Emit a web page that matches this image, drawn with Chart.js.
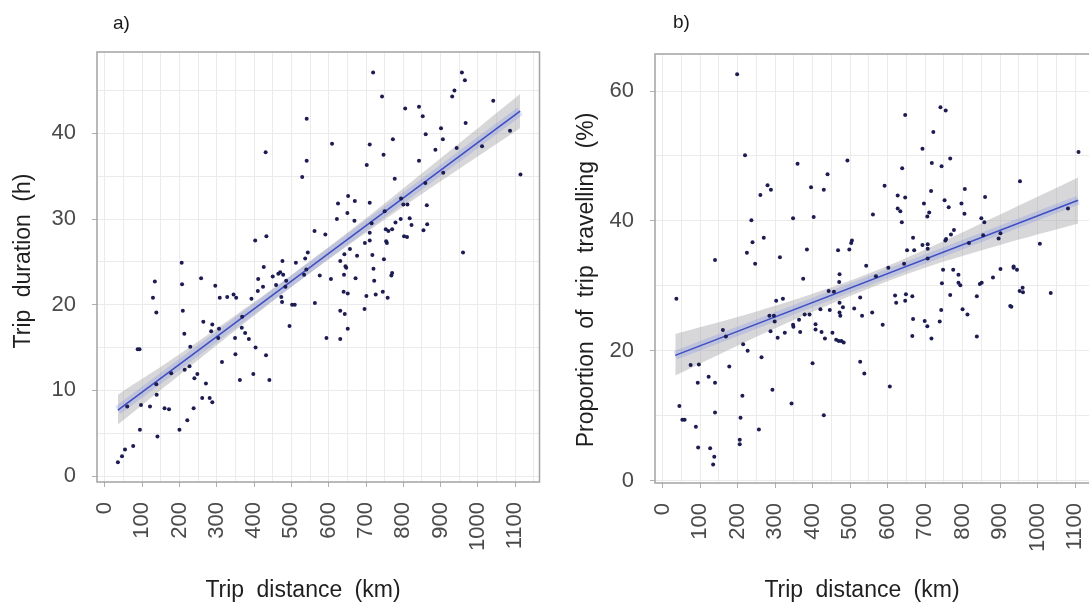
<!DOCTYPE html>
<html><head><meta charset="utf-8">
<script src="https://cdn.jsdelivr.net/npm/chart.js@4.4.1/dist/chart.umd.min.js"></script>
<style>
html,body{margin:0;padding:0;background:#fff;width:1089px;height:610px;overflow:hidden;position:relative}
canvas{display:block;position:absolute;top:0}
#ca{left:0}
#cb{left:545px}
</style></head><body>
<canvas id="ca" width="545" height="610"></canvas>
<canvas id="cb" width="555" height="610"></canvas>
<script>
// ---------- data ----------
const xTickLabels = [0,100,200,300,400,500,600,700,800,900,1000,1100];
const yTickLabelsA = [0,10,20,30,40];
const yTickLabelsB = [0,20,40,60];

// panel a: trip distance (km) vs trip duration (h)
const distA = [541,431,541,529,403,433,206,476,512,537,544,426,
719,743,805,842,852,957,965,937,931,1041,967,901,860,906,1086,609,710,772,886,747,943,1011,842,702,1114,907,777,859,794,652,670,625,710,800,811,863,650,750,622,669,715,779,793,817,822,864,854,753,760,770,562,591,710,802,810,710,754,756,697,657,642,676,717,631,748,960,645,
134,129,138,207,258,209,296,308,328,345,352,393,411,410,424,450,465,470,478,459,484,486,475,473,502,509,495,534,540,88,93,264,288,285,306,304,367,368,376,386,349,404,432,350,398,362,441,213,229,314,214,227,248,240,271,178,138,139,261,281,288,238,160,172,121,97,60,94,141,200,221,76,54,46,35,
576,606,641,647,672,720,722,770,768,640,651,701,726,745,758,563,631,643,696,651,594,631];
const durA = [41.7,37.8,36.8,34.9,27.5,28.0,24.9,25.1,24.9,25.4,26.1,24.4,
47.1,44.3,42.9,43.1,42.0,47.1,46.2,45.0,44.3,43.8,41.2,40.6,39.9,39.3,40.3,38.8,38.7,39.3,38.1,37.5,38.3,38.5,36.8,36.3,35.2,35.4,34.7,34.2,32.4,32.7,32.1,31.8,31.9,31.7,31.7,31.6,30.7,30.9,30.0,29.8,29.5,29.6,30.0,30.1,29.3,29.4,28.7,28.8,28.6,28.8,28.6,28.2,28.4,28.0,27.9,27.5,27.4,27.2,27.2,26.5,25.9,25.7,25.8,25.1,25.3,26.1,24.5,
22.7,20.8,19.1,22.4,23.1,19.3,22.2,20.8,20.9,21.2,20.8,20.7,23.0,21.6,22.1,23.3,23.6,23.8,23.5,22.3,22.1,22.8,20.3,20.9,20.0,20.0,17.5,23.5,24.1,14.8,14.8,18.0,17.7,16.9,17.2,16.1,17.3,18.6,16.7,16.0,16.1,15.0,14.1,14.2,11.9,11.2,11.2,16.6,15.1,13.3,12.4,12.8,11.9,11.4,10.8,12.0,10.7,9.5,9.1,9.1,8.6,7.9,7.9,7.8,8.1,8.3,8.1,5.4,4.6,5.4,6.5,3.5,3.1,2.3,1.6,
23.4,23.0,23.5,24.3,23.1,24.2,22.8,23.7,23.4,21.5,21.3,21.0,21.2,21.5,20.8,20.2,19.3,18.9,19.5,17.2,16.1,16.0];
const fitXA = [35,1113];
const fitYA = [7.7,42.6];
const bandXA = [35,200,400,550,700,900,1113];
const bandLoA = [6.0,11.8,18.7,23.7,28.4,34.4,40.6];
const bandHiA = [9.5,14.2,20.3,25.1,30.1,37.1,44.6];

// panel b: trip distance (km) vs proportion of trip travelling (%)
const distB = [199,220,360,493,440,280,289,261,396,430,237,348,403,270,240,225,505,503,385,468,498,140,313,247,543,
741,755,647,722,693,1109,767,718,744,639,592,953,806,716,627,647,860,627,634,752,763,697,797,805,561,638,711,706,850,858,777,769,756,754,668,901,896,855,1081,1006,817,693,707,707,652,671,707,644,936,
37,375,472,471,303,321,443,457,527,472,481,472,474,511,532,421,446,379,392,285,297,364,299,348,349,408,408,424,453,367,288,326,307,433,463,470,477,483,161,169,215,227,264,75,97,178,123,94,140,400,527,538,213,293,344,45,53,59,140,208,430,89,257,206,206,95,127,138,135,
748,775,789,745,789,794,851,846,881,901,936,945,960,952,961,1035,767,838,620,649,666,623,647,559,743,800,813,927,930,587,668,699,706,739,666,717,838,606,569,602];
const pctB = [62.6,50.1,48.8,49.3,47.2,45.5,44.8,44.0,45.2,44.8,40.1,40.4,40.6,37.4,36.7,35.1,37.0,36.6,35.6,35.5,35.6,34.0,34.4,33.4,33.1,
57.5,57.0,56.3,53.7,51.1,50.6,49.6,48.9,48.4,48.1,45.4,46.1,44.9,44.6,43.9,43.6,43.7,41.9,41.5,43.2,42.1,42.7,42.7,41.1,41.0,39.8,41.3,40.7,40.4,39.8,38.6,37.9,37.2,37.0,37.4,38.1,37.3,37.8,41.9,36.5,36.6,36.3,36.4,35.7,35.5,35.5,34.2,33.4,33.0,
28.0,31.1,31.8,30.6,27.7,28.0,29.2,29.1,28.2,27.4,26.7,25.9,25.4,26.5,25.4,26.4,26.3,25.6,25.6,25.4,25.4,24.8,24.5,24.0,23.7,24.1,23.3,22.9,22.8,22.9,23.0,22.8,22.0,21.9,21.7,21.5,21.5,21.3,23.2,22.2,21.0,20.0,19.0,17.8,17.9,17.6,16.0,15.1,15.1,18.1,18.3,16.5,13.1,14.0,11.9,11.5,9.4,9.4,10.5,9.7,10.1,8.3,7.9,6.3,5.6,5.1,5.0,3.7,2.5,
32.5,32.5,31.7,30.4,30.5,30.1,30.5,30.3,31.3,32.6,32.8,32.5,29.7,29.2,29.0,28.9,28.6,28.4,28.5,28.7,28.4,27.4,27.7,25.9,26.3,26.4,25.6,26.9,26.8,24.0,24.9,24.6,23.8,24.5,22.3,21.9,22.2,14.5,31.5,32.8];
const fitXB = [34,1108];
const fitYB = [19.3,43.2];
const bandXB = [34,200,400,550,700,900,1108];
const bandLoB = [16.2,20.8,26.0,29.6,32.8,36.3,39.6];
const bandHiB = [22.6,25.2,28.8,31.9,35.6,41.0,46.7];

// ---------- styling ----------
const FONT = '"Liberation Sans", Arial, sans-serif';
const pts = (xs, ys) => xs.map((x, i) => ({x: x, y: ys[i]}));

const framePlugin = {
  id: 'frame',
  afterDraw(chart, args, opts) {
    const {ctx, chartArea: a} = chart;
    ctx.save();
    ctx.strokeStyle = '#a3a3a3';
    ctx.lineWidth = 1.5;
    ctx.strokeRect(a.left, a.top, a.right - a.left, a.bottom - a.top);
    ctx.fillStyle = '#1a1a1a';
    ctx.font = '19px ' + FONT;
    ctx.textBaseline = 'middle';
    ctx.textAlign = 'left';
    ctx.fillText(opts.label, opts.lx, opts.ly);
    // axis titles
    ctx.wordSpacing = '6px';
    ctx.fillStyle = '#1f1f1f';
    ctx.font = '23px ' + FONT;
    ctx.textAlign = 'center';
    ctx.fillText(opts.xtitle, opts.xtx, opts.xty);
    ctx.translate(opts.ytx, opts.yty);
    ctx.rotate(-Math.PI / 2);
    ctx.fillText(opts.ytitle, 0, 0);
    ctx.restore();
  }
};

function build(canvasId, cfg) {
  const datasets = [
    {label:'trips', data: pts(cfg.xs, cfg.ys), pointRadius:2, pointHoverRadius:2,
     backgroundColor:'#1c1c52', borderColor:'#1c1c52', borderWidth:0, showLine:false},
    {label:'fit', data: pts(cfg.fitX, cfg.fitY), showLine:true, pointRadius:0,
     borderColor:'#3e4fc4', borderWidth:1.6, fill:false},
    {label:'halo', data: pts(cfg.fitX, cfg.fitY), showLine:true, pointRadius:0,
     borderColor:'rgba(110,125,225,0.24)', borderWidth:9, fill:false},
    {label:'ci-low', data: pts(cfg.bandX, cfg.bandLo), showLine:true, pointRadius:0,
     borderWidth:0, borderColor:'rgba(0,0,0,0)', fill:false, tension:0.35},
    {label:'ci-high', data: pts(cfg.bandX, cfg.bandHi), showLine:true, pointRadius:0,
     borderWidth:0, borderColor:'rgba(0,0,0,0)', backgroundColor:'rgba(160,160,165,0.42)', fill:'-1', tension:0.35}
  ];
  const tickFont = {family: FONT, size: 22};
  return new Chart(document.getElementById(canvasId), {
    type: 'scatter',
    data: {datasets},
    plugins: [framePlugin],
    options: {
      responsive: false,
      animation: false,
      events: [],
      layout: {padding: {left:0, top: cfg.padTop, right: cfg.padRight, bottom:0}},
      plugins: {legend:{display:false}, tooltip:{enabled:false},
        frame: {label: cfg.label, lx: cfg.lx, ly: cfg.ly,
                xtitle:'Trip distance (km)', xtx: cfg.xtx, xty: 591,
                ytitle: cfg.ytitle, ytx: cfg.ytx, yty: cfg.yty}},
      scales: {
        x: {
          type:'linear', min: cfg.xmin, max: cfg.xmax,
          afterFit: s => { s.height = cfg.xh; s.paddingLeft = 0; s.paddingRight = 0; },
          border: {display:false},
          grid: {color:'#ebebeb', lineWidth:1, tickLength:5,
                 tickColor: c => (xTickLabels.includes(Math.round(c.tick.value)) ? '#b0b0b0' : 'rgba(0,0,0,0)')},
          ticks: {stepSize:50, includeBounds:false, autoSkip:false, minRotation:90, maxRotation:90,
                  padding:15, color:'#4a4a4a', font: tickFont,
                  callback: v => (xTickLabels.includes(Math.round(v)) ? String(Math.round(v)) : '')},
          title: {display:false}
        },
        y: {
          type:'linear', min: cfg.ymin, max: cfg.ymax,
          afterFit: s => { s.width = cfg.yw; s.paddingTop = 0; s.paddingBottom = 0; },
          border: {display:false},
          grid: {color:'#ebebeb', lineWidth:1, tickLength:5,
                 tickColor: c => (cfg.yLabels.includes(Math.round(c.tick.value)) ? '#b0b0b0' : 'rgba(0,0,0,0)')},
          ticks: {stepSize: cfg.yStep, includeBounds:false, autoSkip:false, padding:16,
                  color:'#4a4a4a', font: tickFont,
                  callback: v => (cfg.yLabels.includes(Math.round(v)) ? String(Math.round(v)) : '')},
          title: {display:false}
        }
      }
    }
  });
}

build('ca', {
  xs: distA, ys: durA, fitX: fitXA, fitY: fitYA, bandX: bandXA, bandLo: bandLoA, bandHi: bandHiA,
  xmin:-21, xmax:1165, ymin:-0.7, ymax:49.5, yStep:5, yLabels: yTickLabelsA,
  ytitle:'Trip duration (h)', yw:97, xh:128, padTop:52, padRight:5.5,
  xtx:303, ytx:24, yty:261,
  label:'a)', lx:113, ly:24
});
build('cb', {
  xs: distB, ys: pctB, fitX: fitXB, fitY: fitYB, bandX: bandXB, bandLo: bandLoB, bandHi: bandHiB,
  xmin:-20, xmax:1161, ymin:-0.35, ymax:65.7, yStep:10, yLabels: yTickLabelsB,
  ytitle:'Proportion of trip travelling (%)', yw:110, xh:127, padTop:54, padRight:2,
  xtx:317, ytx:42, yty:280,
  label:'b)', lx:128, ly:23
});
</script>
</body></html>
